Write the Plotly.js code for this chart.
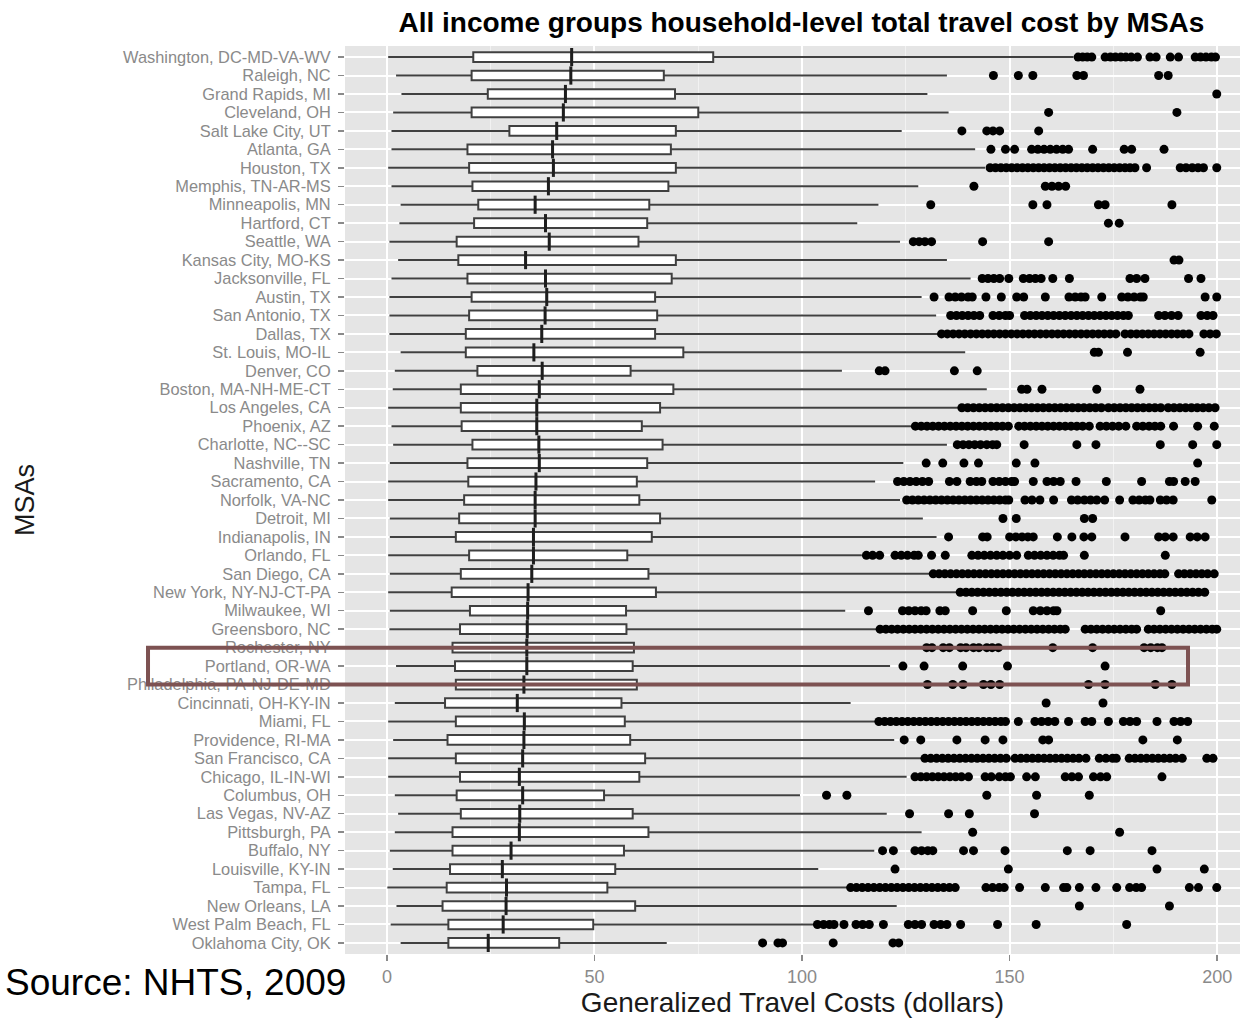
<!DOCTYPE html>
<html>
<head>
<meta charset="utf-8">
<script src="https://cdn.plot.ly/plotly-3.0.1.min.js"></script>
<style>
  html, body { margin: 0; padding: 0; background: #ffffff; }
  #chart { width: 1250px; height: 1020px; }
</style>
</head>
<body>
<div id="chart"></div>
<script>
// Metropolitan statistical areas, top to bottom
const msas = [
  "Washington, DC-MD-VA-WV", "Raleigh, NC", "Grand Rapids, MI", "Cleveland, OH",
  "Salt Lake City, UT", "Atlanta, GA", "Houston, TX", "Memphis, TN-AR-MS",
  "Minneapolis, MN", "Hartford, CT", "Seattle, WA", "Kansas City, MO-KS",
  "Jacksonville, FL", "Austin, TX", "San Antonio, TX", "Dallas, TX",
  "St. Louis, MO-IL", "Denver, CO", "Boston, MA-NH-ME-CT", "Los Angeles, CA",
  "Phoenix, AZ", "Charlotte, NC--SC", "Nashville, TN", "Sacramento, CA",
  "Norfolk, VA-NC", "Detroit, MI", "Indianapolis, IN", "Orlando, FL",
  "San Diego, CA", "New York, NY-NJ-CT-PA", "Milwaukee, WI", "Greensboro, NC",
  "Rochester, NY", "Portland, OR-WA", "Philadelphia, PA-NJ-DE-MD", "Cincinnati, OH-KY-IN",
  "Miami, FL", "Providence, RI-MA", "San Francisco, CA", "Chicago, IL-IN-WI",
  "Columbus, OH", "Las Vegas, NV-AZ", "Pittsburgh, PA", "Buffalo, NY",
  "Louisville, KY-IN", "Tampa, FL", "New Orleans, LA", "West Palm Beach, FL",
  "Oklahoma City, OK"
];

// Box statistics (dollars)
const lowerWhisker = [
  0.3, 2.2, 3.5, 1.5, 1.1, 1.1, 0.3, 1.1, 3.3, 3.0, 0.6, 2.7, 1.1, 0.6, 0.6, 0.6,
  3.3, 1.9, 1.4, 0.3, 1.1, 1.5, 0.7, 0.3, 0.3, 0.7, 0.7, 0.3, 0.7, 0.3, 0.7, 0.6,
  1.0, 2.2, 1.5, 1.9, 0.3, 1.5, 0.3, 0.3, 1.9, 2.7, 1.9, 0.7, 1.4, 0.1, 2.3, 0.9,
  3.3
];
const q1 = [
  20.8, 20.4, 24.3, 20.4, 29.5, 19.4, 19.8, 20.6, 22.0, 21.0, 16.8, 17.2, 19.4, 20.4, 19.8, 19.0,
  19.0, 21.8, 17.8, 17.8, 18.0, 20.6, 19.4, 19.6, 18.6, 17.4, 16.6, 19.8, 17.8, 15.6, 20.0, 17.6,
  15.8, 16.4, 16.6, 14.0, 16.6, 14.6, 16.6, 17.6, 16.8, 17.8, 15.8, 15.8, 15.2, 14.4, 13.4, 14.8,
  14.8
];
const median = [
  44.5, 44.3, 43.0, 42.5, 40.9, 39.9, 40.1, 38.9, 35.7, 38.2, 39.1, 33.4, 38.2, 38.5, 38.1, 37.3,
  35.4, 37.4, 36.7, 36.1, 36.1, 36.6, 36.7, 35.9, 35.7, 35.7, 35.3, 35.3, 34.9, 34.0, 33.9, 33.8,
  33.7, 33.7, 33.0, 31.4, 33.1, 33.0, 32.7, 31.9, 32.7, 32.0, 31.9, 29.9, 27.8, 28.8, 28.7, 28.0,
  24.4
];
const q3 = [
  78.6, 66.7, 69.4, 75.0, 69.6, 68.4, 69.6, 67.8, 63.2, 62.7, 60.6, 69.6, 68.6, 64.6, 65.1, 64.6,
  71.4, 58.7, 69.0, 65.8, 61.4, 66.4, 62.7, 60.2, 60.8, 65.8, 63.8, 57.9, 63.0, 64.8, 57.6, 57.7,
  59.5, 59.2, 60.2, 56.5, 57.3, 58.6, 62.2, 60.8, 52.3, 59.2, 63.0, 57.1, 55.0, 53.1, 59.8, 49.7,
  41.5
];
const upperWhisker = [
  165.4, 134.9, 130.2, 135.3, 124.0, 141.7, 144.1, 128.0, 118.4, 113.3, 123.6, 134.9, 140.6, 128.8, 132.3, 132.8,
  139.3, 109.6, 144.5, 137.7, 126.4, 134.9, 124.4, 117.6, 123.6, 129.1, 132.4, 114.4, 130.8, 137.3, 110.4, 118.0,
  124.5, 121.2, 120.8, 111.7, 117.6, 122.2, 128.8, 125.2, 99.5, 120.4, 128.8, 117.4, 103.9, 110.8, 122.8, 102.9,
  67.4
];

// Households beyond the upper whisker, one list per MSA (same order)
const outliers = [
  [166.5, 167.6, 168.7, 169.8, 173.0, 174.3, 175.5, 176.8, 178.0, 179.3, 180.8, 183.8, 185.3, 188.7, 190.7, 194.7, 196.0, 197.3, 198.6, 199.6],
  [146.1, 152.1, 155.6, 166.2, 167.8, 185.9, 188.2],
  [199.9],
  [159.4, 190.3],
  [138.5, 144.5, 146.0, 147.6, 157.0],
  [145.5, 149.0, 151.2, 155.3, 156.8, 158.3, 159.8, 161.3, 162.8, 164.2, 170.0, 177.6, 179.4, 187.2],
  [145.3, 146.6, 147.9, 149.2, 150.5, 151.8, 153.1, 154.4, 155.7, 157.0, 158.3, 159.6, 160.9, 162.2, 163.5, 164.8, 166.1, 167.4, 168.7, 170.0, 171.3, 172.6, 173.9, 175.2, 176.5, 177.8, 179.0, 180.2, 183.0, 191.1, 192.5, 194.0, 195.4, 196.7, 199.9],
  [141.4, 158.6, 160.2, 161.8, 163.5],
  [131.0, 155.6, 159.0, 171.4, 173.0, 189.1],
  [173.8, 176.4],
  [126.8, 128.2, 129.6, 131.2, 143.5, 159.4],
  [189.6, 190.8],
  [143.4, 144.8, 146.2, 147.6, 149.8, 153.3, 154.8, 156.2, 157.6, 160.4, 164.4, 179.0, 180.6, 182.6, 193.1, 196.1],
  [131.8, 135.4, 136.9, 138.4, 140.0, 141.0, 144.3, 148.0, 151.7, 153.4, 158.6, 164.3, 165.8, 167.2, 168.2, 172.2, 177.0, 178.5, 180.0, 181.5, 182.2, 197.1, 199.9],
  [135.8, 137.2, 138.6, 140.0, 141.4, 142.8, 146.0, 147.5, 149.0, 150.0, 153.6, 155.0, 156.4, 157.8, 159.2, 160.6, 162.0, 163.4, 164.8, 166.2, 167.6, 169.0, 170.4, 171.8, 173.2, 174.6, 176.0, 177.4, 178.6, 185.9, 187.4, 189.0, 190.6, 196.1, 197.6, 199.0],
  [133.6, 135.0, 136.4, 137.8, 139.2, 140.6, 142.0, 143.4, 144.8, 146.2, 147.6, 149.0, 150.4, 151.8, 153.2, 154.6, 156.0, 157.4, 158.8, 160.2, 161.6, 163.0, 164.4, 165.8, 167.2, 168.6, 170.0, 171.4, 172.8, 174.2, 175.6, 177.8, 179.2, 180.6, 182.0, 183.4, 184.8, 186.2, 187.6, 189.0, 190.4, 191.8, 193.2, 196.8, 198.3, 199.8],
  [170.4, 171.4, 178.4, 195.9],
  [118.6, 120.0, 136.7, 142.2],
  [152.9, 154.2, 157.8, 171.0, 181.4],
  [138.5, 139.9, 141.3, 142.7, 144.1, 145.5, 146.9, 148.3, 149.7, 151.1, 152.5, 153.9, 155.3, 156.7, 158.1, 159.5, 160.9, 162.3, 163.7, 165.1, 166.5, 167.9, 169.3, 170.7, 172.1, 173.8, 175.2, 176.6, 178.0, 179.4, 180.8, 182.2, 183.6, 185.0, 186.4, 188.2, 189.6, 191.0, 192.4, 193.8, 195.2, 196.6, 198.0, 199.5],
  [127.3, 128.7, 130.1, 131.5, 132.9, 134.3, 135.7, 137.1, 138.5, 139.9, 141.3, 142.7, 144.1, 145.5, 146.9, 148.3, 149.7, 152.2, 153.6, 155.0, 156.4, 157.8, 159.2, 160.6, 162.0, 163.4, 164.8, 166.2, 167.6, 169.2, 171.8, 173.3, 174.8, 176.3, 178.0, 180.6, 182.1, 183.6, 185.0, 186.4, 189.5, 195.3, 199.3],
  [137.4, 138.8, 140.2, 141.6, 143.0, 144.5, 145.9, 146.9, 153.5, 166.2, 170.8, 186.3, 194.1, 199.9],
  [129.9, 133.9, 139.0, 142.5, 151.6, 156.1, 195.3],
  [123.0, 124.5, 126.0, 127.5, 129.0, 130.5, 135.5, 137.3, 140.5, 142.0, 143.3, 146.0, 147.5, 149.0, 150.5, 151.2, 155.7, 159.0, 160.6, 162.2, 166.0, 173.3, 181.8, 188.5, 189.5, 192.3, 194.7],
  [125.2, 126.6, 128.0, 129.4, 130.8, 132.2, 133.6, 135.0, 136.4, 137.8, 139.2, 140.6, 142.0, 143.4, 144.8, 146.2, 147.6, 149.0, 149.8, 153.7, 155.4, 157.3, 160.6, 164.9, 166.4, 168.0, 169.5, 171.0, 172.9, 176.5, 179.7, 181.2, 182.7, 183.8, 186.3, 187.8, 189.4, 198.7],
  [148.4, 151.6, 168.0, 170.0],
  [135.3, 143.5, 144.6, 150.0, 151.5, 153.0, 154.4, 155.7, 161.5, 165.0, 167.9, 169.8, 177.8, 185.9, 187.5, 189.4, 193.5, 195.2, 197.1],
  [115.5, 117.0, 118.7, 122.4, 123.9, 125.4, 127.0, 128.0, 131.2, 134.5, 140.9, 142.4, 143.9, 145.4, 146.9, 148.4, 150.0, 151.7, 154.5, 156.0, 157.5, 159.0, 160.5, 162.0, 163.0, 168.0, 187.5],
  [131.6, 133.0, 134.4, 135.8, 137.2, 138.6, 140.0, 141.4, 142.8, 144.2, 145.6, 147.0, 148.4, 149.8, 151.2, 152.6, 154.0, 155.4, 156.8, 158.2, 159.6, 161.0, 162.4, 163.8, 165.2, 166.6, 168.0, 169.4, 170.8, 172.2, 173.6, 175.0, 176.4, 177.8, 179.2, 180.6, 182.0, 183.4, 184.8, 186.2, 187.4, 190.7, 192.1, 193.5, 194.9, 196.3, 197.7, 199.3],
  [138.1, 139.5, 140.9, 142.3, 143.7, 145.1, 146.5, 147.9, 149.3, 150.7, 152.1, 153.5, 154.9, 156.3, 157.7, 159.1, 160.5, 161.9, 163.3, 164.7, 166.1, 167.5, 168.9, 170.3, 171.7, 173.1, 174.5, 175.9, 177.3, 178.7, 180.1, 181.5, 182.9, 184.3, 185.7, 187.1, 188.5, 189.9, 191.3, 192.7, 194.1, 195.5, 197.0],
  [116.0, 124.2, 125.7, 127.2, 128.7, 129.9, 133.2, 134.5, 141.1, 149.2, 155.7, 157.4, 159.0, 160.6, 161.4, 186.4],
  [118.8, 120.2, 121.6, 123.0, 124.4, 125.8, 127.2, 128.6, 130.0, 131.4, 132.8, 134.2, 135.6, 137.0, 138.4, 139.8, 141.2, 142.6, 144.0, 145.4, 146.8, 148.2, 149.6, 151.0, 152.4, 153.8, 155.2, 156.6, 158.0, 159.4, 160.8, 162.2, 163.4, 168.2, 169.6, 171.0, 172.4, 173.8, 175.2, 176.6, 178.0, 179.4, 180.6, 183.4, 184.8, 186.2, 187.6, 189.0, 190.4, 191.8, 193.2, 194.6, 196.0, 197.4, 198.8, 199.9],
  [130.0, 131.3, 134.0, 135.5, 138.2, 139.5, 141.3, 142.6, 144.5, 145.8, 147.3, 160.4, 170.0, 182.4, 184.0, 185.6, 186.7],
  [124.3, 129.4, 138.7, 149.5, 173.0],
  [130.2, 136.3, 138.8, 143.7, 145.5, 147.6, 169.0, 173.0, 185.1, 189.1],
  [158.8, 172.5],
  [118.5, 119.9, 121.3, 122.7, 124.1, 125.5, 126.9, 128.3, 129.7, 131.1, 132.5, 133.9, 135.3, 136.7, 138.1, 139.5, 140.9, 142.3, 143.7, 145.1, 146.5, 147.9, 149.0, 152.1, 156.1, 157.7, 159.3, 160.9, 164.2, 168.2, 169.8, 173.8, 177.4, 179.0, 180.6, 185.5, 189.6, 191.2, 192.9],
  [124.6, 128.6, 137.3, 144.1, 148.4, 158.0, 159.4, 182.1, 190.4],
  [129.6, 131.0, 132.4, 133.8, 135.2, 136.6, 138.0, 139.4, 140.8, 142.2, 143.6, 145.0, 146.4, 147.8, 149.2, 151.3, 152.7, 154.1, 155.5, 156.9, 158.3, 159.7, 161.1, 162.5, 163.9, 165.3, 166.7, 168.4, 171.6, 173.2, 174.8, 175.7, 178.8, 180.2, 181.6, 183.0, 184.4, 185.8, 187.2, 188.6, 190.0, 191.6, 197.5, 199.0],
  [127.2, 128.6, 130.0, 131.4, 132.8, 134.2, 135.6, 137.0, 138.4, 140.1, 144.1, 145.6, 147.5, 149.0, 150.2, 154.1, 156.2, 163.4, 165.0, 166.6, 170.2, 171.9, 173.4, 186.7],
  [105.9, 110.8, 144.5, 156.5, 169.2],
  [125.9, 135.3, 140.3, 156.0],
  [141.1, 176.5],
  [119.4, 122.0, 127.2, 128.8, 130.3, 131.5, 138.9, 141.3, 148.9, 163.9, 169.4, 184.3],
  [122.4, 149.7, 185.5, 196.9],
  [111.7, 113.1, 114.5, 115.9, 117.3, 118.7, 120.1, 121.5, 122.9, 124.3, 125.7, 127.1, 128.5, 129.9, 131.3, 132.7, 134.1, 135.5, 136.9, 144.3, 145.9, 147.5, 148.7, 152.4, 158.6, 163.0, 163.8, 166.8, 170.8, 175.8, 178.9, 180.5, 181.8, 193.3, 195.5, 199.9],
  [166.8, 188.5],
  [103.7, 105.2, 106.6, 107.7, 110.1, 113.0, 114.6, 116.2, 119.6, 125.6, 127.2, 128.8, 131.8, 133.4, 134.9, 138.2, 147.1, 156.4, 178.2],
  [90.5, 94.2, 95.3, 107.5, 121.9, 123.3]
];

const xTicks = [0, 50, 100, 150, 200];
const highlighted = "Portland, OR-WA";

// Flatten the outlier lists into one point cloud
const outX = [];
const outY = [];
outliers.forEach((vals, i) => {
  vals.forEach(v => { outX.push(v); outY.push(msas[i]); });
});

const FONT = "Liberation Sans, Arial, Helvetica, sans-serif";

const boxes = {
  type: "box",
  orientation: "h",
  y: msas,
  q1: q1,
  median: median,
  q3: q3,
  lowerfence: lowerWhisker,
  upperfence: upperWhisker,
  boxpoints: false,
  whiskerwidth: 0,
  fillcolor: "#ffffff",
  line: { color: "#404040", width: 2 },
  showlegend: false,
  hoverinfo: "x+y"
};

const medians = {
  type: "scatter",
  mode: "markers",
  x: median,
  y: msas,
  marker: { symbol: "line-ns", size: 13, line: { color: "#1e1e1e", width: 3 } },
  showlegend: false,
  hoverinfo: "skip"
};

const points = {
  type: "scatter",
  mode: "markers",
  x: outX,
  y: outY,
  marker: { color: "#000000", size: 9 },
  showlegend: false,
  hoverinfo: "x+y"
};

const hIdx = msas.indexOf(highlighted);

const layout = {
  width: 1250,
  height: 1020,
  margin: { l: 345, r: 10, t: 46, b: 66, pad: 0 },
  paper_bgcolor: "#ffffff",
  plot_bgcolor: "#e5e5e5",
  font: { family: FONT, color: "#8a8a8a" },
  boxgap: 0.25,
  title: {
    text: "<b>All income groups household-level total travel cost by MSAs</b>",
    font: { family: FONT, size: 28, color: "#000000" },
    xref: "paper",
    x: 0.51,
    xanchor: "center",
    y: 0.978,
    yanchor: "middle"
  },
  xaxis: {
    range: [-10.1, 205.5],
    tickmode: "array",
    tickvals: xTicks,
    ticktext: xTicks.map(String),
    showgrid: true,
    gridcolor: "#ffffff",
    gridwidth: 2,
    minor: { dtick: 25, tick0: 0, showgrid: true, gridcolor: "#f2f2f2", gridwidth: 1 },
    zeroline: false,
    showline: false,
    ticks: "outside",
    ticklen: 6,
    tickwidth: 1.5,
    tickcolor: "#8a8a8a",
    tickfont: { family: FONT, size: 18, color: "#8a8a8a" },
    title: {
      text: "Generalized Travel Costs (dollars)",
      font: { family: FONT, size: 28, color: "#1a1a1a" },
      standoff: 4
    },
    automargin: false,
    fixedrange: true
  },
  yaxis: {
    type: "category",
    categoryorder: "array",
    categoryarray: msas,
    tickmode: "array",
    tickvals: msas,
    ticktext: msas,
    range: [msas.length - 0.4, -0.6],
    showgrid: true,
    gridcolor: "#ffffff",
    gridwidth: 2,
    zeroline: false,
    showline: false,
    ticks: "outside",
    ticklen: 6,
    tickwidth: 1.5,
    tickcolor: "#8a8a8a",
    ticklabelstandoff: 4,
    tickfont: { family: FONT, size: 16.4, color: "#8a8a8a" },
    title: {
      text: "MSAs",
      font: { family: FONT, size: 27, color: "#1a1a1a" },
      standoff: 80
    },
    automargin: false,
    fixedrange: true
  },
  shapes: [{
    type: "rect",
    xref: "paper",
    yref: "y",
    x0: -0.2201,
    x1: 0.9419,
    y0: hIdx - 1,
    y1: hIdx + 1,
    line: { color: "#7d5252", width: 4 },
    fillcolor: "rgba(0,0,0,0)",
    layer: "above"
  }],
  annotations: [{
    text: "Source: NHTS, 2009",
    xref: "paper",
    yref: "paper",
    x: 0.0034,
    y: -0.0314,
    xanchor: "right",
    yanchor: "middle",
    showarrow: false,
    font: { family: FONT, size: 37, color: "#000000" }
  }]
};

Plotly.newPlot("chart", [boxes, medians, points], layout, { staticPlot: true, displayModeBar: false });
</script>
</body>
</html>
